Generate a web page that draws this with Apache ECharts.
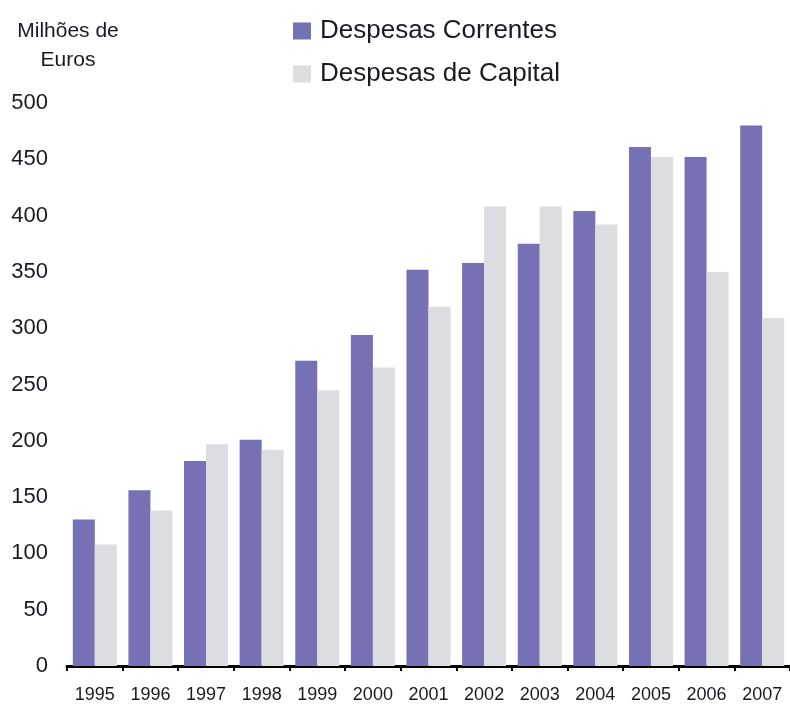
<!DOCTYPE html>
<html>
<head>
<meta charset="utf-8">
<script src="https://cdn.jsdelivr.net/npm/echarts@6/dist/echarts.min.js"></script>
<style>
  html, body { margin: 0; padding: 0; background: #ffffff; }
  #chart { width: 790px; height: 704px; }
</style>
</head>
<body>
<div id="chart"></div>
<script>
// Anos e valores (milhões de euros)
const years = ['1995', '1996', '1997', '1998', '1999', '2000', '2001', '2002', '2003', '2004', '2005', '2006', '2007'];
const despesasCorrentes = [130, 156, 182, 201, 271, 294, 352, 358, 375, 404, 461, 452, 480];
const despesasCapital = [108, 138, 197, 192, 245, 265, 319, 408, 408, 392, 452, 350, 309];

const FONT = '"Liberation Sans", Arial, sans-serif';
const TEXT = '#1a1a22';

const chart = echarts.init(document.getElementById('chart'), null, { renderer: 'canvas' });

chart.setOption({
  backgroundColor: '#ffffff',
  animation: false,
  title: {
    text: 'Milhões de\nEuros',
    left: 68,
    top: 17,
    padding: 0,
    textAlign: 'center',
    textStyle: {
      fontFamily: FONT,
      fontSize: 21,
      fontWeight: 'normal',
      lineHeight: 29,
      color: TEXT
    }
  },
  legend: {
    orient: 'vertical',
    left: 293,
    top: 18,
    padding: 0,
    itemWidth: 18,
    itemHeight: 17,
    itemGap: 17,
    icon: 'rect',
    textStyle: {
      fontFamily: FONT,
      fontSize: 26,
      lineHeight: 25,
      color: TEXT,
      padding: [0, 0, 0, 4]
    },
    data: ['Despesas Correntes', 'Despesas de Capital']
  },
  grid: {
    left: 67,
    top: 103,
    width: 724,
    bottom: 38,
    containLabel: false
  },
  xAxis: {
    type: 'category',
    data: years,
    axisLine: { show: true, lineStyle: { color: '#000000', width: 3 } },
    axisTick: {
      show: true,
      alignWithLabel: false,
      length: 5,
      lineStyle: { color: '#000000', width: 2 }
    },
    axisLabel: {
      fontFamily: FONT,
      fontSize: 18,
      color: TEXT,
      margin: 20,
      interval: 0
    },
    splitLine: { show: false }
  },
  yAxis: {
    type: 'value',
    min: 0,
    max: 500,
    interval: 50,
    axisLine: { show: false },
    axisTick: { show: false },
    splitLine: { show: false },
    axisLabel: {
      fontFamily: FONT,
      fontSize: 22,
      color: TEXT,
      margin: 19
    }
  },
  series: [
    {
      name: 'Despesas Correntes',
      type: 'bar',
      data: despesasCorrentes,
      barWidth: 22,
      barGap: '0%',
      itemStyle: { color: '#7571b4' }
    },
    {
      name: 'Despesas de Capital',
      type: 'bar',
      data: despesasCapital,
      barWidth: 22,
      barGap: '0%',
      itemStyle: { color: '#dcdde0' }
    }
  ]
});
</script>
</body>
</html>
